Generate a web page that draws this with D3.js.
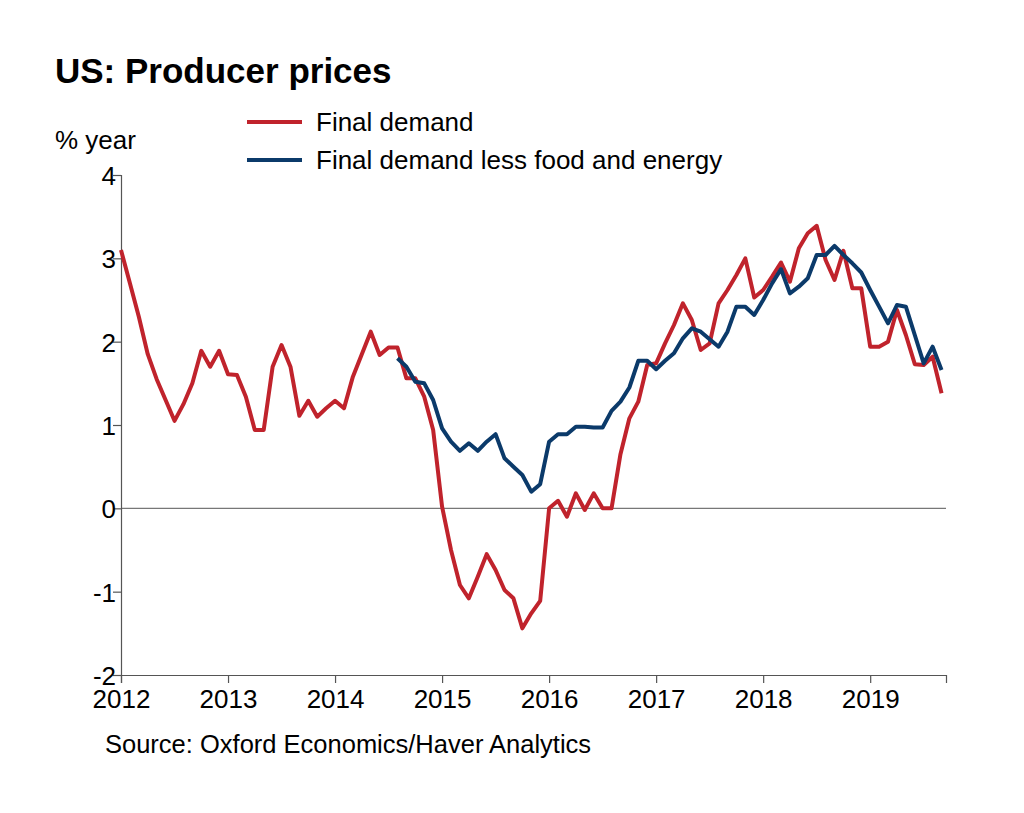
<!DOCTYPE html>
<html><head><meta charset="utf-8">
<script src="https://cdn.jsdelivr.net/npm/d3@7"></script>
<style>body{margin:0;background:#fff}text{font-family:"Liberation Sans",Arial,sans-serif}</style>
</head><body><svg id="c" width="1024" height="813"></svg>
<script>
// monthly, Jan 2012 .. Sep 2019
var startYear = 2012;
var finalDemand = [3.1,2.7,2.3,1.85,1.55,1.3,1.05,1.25,1.5,1.89,1.7,1.89,1.61,1.6,1.34,0.94,0.94,1.7,1.96,1.7,1.11,1.29,1.1,1.2,1.29,1.2,1.58,1.85,2.12,1.84,1.93,1.93,1.56,1.56,1.34,0.94,0.02,-0.5,-0.92,-1.08,-0.82,-0.55,-0.74,-0.98,-1.08,-1.44,-1.26,-1.11,0.0,0.09,-0.1,0.18,-0.02,0.18,0,0,0.65,1.08,1.28,1.72,1.74,1.98,2.2,2.46,2.26,1.9,1.98,2.46,2.62,2.8,3.0,2.53,2.62,2.78,2.95,2.72,3.12,3.3,3.39,2.98,2.74,3.09,2.64,2.64,1.94,1.94,2.0,2.38,2.08,1.73,1.72,1.82,1.38];
var coreStart = 31;
var finalDemandCore = [1.8,1.7,1.52,1.5,1.3,0.96,0.8,0.69,0.78,0.69,0.8,0.89,0.6,0.5,0.4,0.2,0.29,0.8,0.89,0.89,0.98,0.98,0.97,0.97,1.17,1.28,1.45,1.77,1.77,1.67,1.77,1.86,2.04,2.16,2.12,2.03,1.94,2.12,2.42,2.42,2.32,2.5,2.7,2.87,2.58,2.66,2.76,3.04,3.04,3.15,3.04,2.94,2.83,2.62,2.42,2.22,2.44,2.42,2.08,1.74,1.94,1.66];
var yTicks = [-2,-1,0,1,2,3,4];
var xTicks = [2012,2013,2014,2015,2016,2017,2018,2019];

var svg = d3.select("#c");
var x = d3.scaleLinear().domain([0, 92.5]).range([121, 946]);
var y = d3.scaleLinear().domain([-2, 4]).range([675, 175]);

svg.append("text").attr("x", 55).attr("y", 83).attr("font-size", 35).attr("font-weight", "bold").text("US: Producer prices");
svg.append("text").attr("x", 55).attr("y", 149).attr("font-size", 26).text("% year");

// zero line
svg.append("line").attr("x1", 121).attr("x2", 946).attr("y1", y(0)).attr("y2", y(0)).attr("stroke", "#777").attr("stroke-width", 1.2);

var ya = svg.append("g").attr("transform", "translate(121,0)")
    .call(d3.axisLeft(y).tickValues(yTicks).tickSize(8).tickFormat(d => String(d)));
var xa = svg.append("g").attr("transform", "translate(0,675)")
    .call(d3.axisBottom(x).tickValues(xTicks.map(d => (d - startYear) * 12)).tickSize(8).tickFormat((d, i) => xTicks[i]));
[ya, xa].forEach(function (g) {
    g.select(".domain").attr("stroke", "#555").attr("stroke-width", 1.2);
    g.selectAll(".tick line").attr("stroke", "#555").attr("stroke-width", 1.2);
    g.selectAll("text").attr("font-size", 26).attr("fill", "#000").attr("font-family", "Liberation Sans, Arial, sans-serif");
});
ya.selectAll("text").attr("dx", 6).attr("dy", "0.36em");
xa.selectAll("text").attr("dy", 22);

var line = d3.line().x(d => x(d[0])).y(d => y(d[1]));
svg.append("path").datum(finalDemand.map((v, i) => [i, v]))
    .attr("d", line).attr("fill", "none").attr("stroke", "#c0232c").attr("stroke-width", 4).attr("stroke-linejoin", "round");
svg.append("path").datum(finalDemandCore.map((v, i) => [i + coreStart, v]))
    .attr("d", line).attr("fill", "none").attr("stroke", "#0b3a6a").attr("stroke-width", 4).attr("stroke-linejoin", "round");

var legend = [["Final demand", "#c0232c", 122], ["Final demand less food and energy", "#0b3a6a", 160]];
legend.forEach(function (l) {
    svg.append("line").attr("x1", 247).attr("x2", 302).attr("y1", l[2]).attr("y2", l[2]).attr("stroke", l[1]).attr("stroke-width", 4);
    svg.append("text").attr("x", 316).attr("y", l[2] + 9).attr("font-size", 26).text(l[0]);
});

svg.append("text").attr("x", 105).attr("y", 753).attr("font-size", 25.5).text("Source: Oxford Economics/Haver Analytics");
</script></body></html>
